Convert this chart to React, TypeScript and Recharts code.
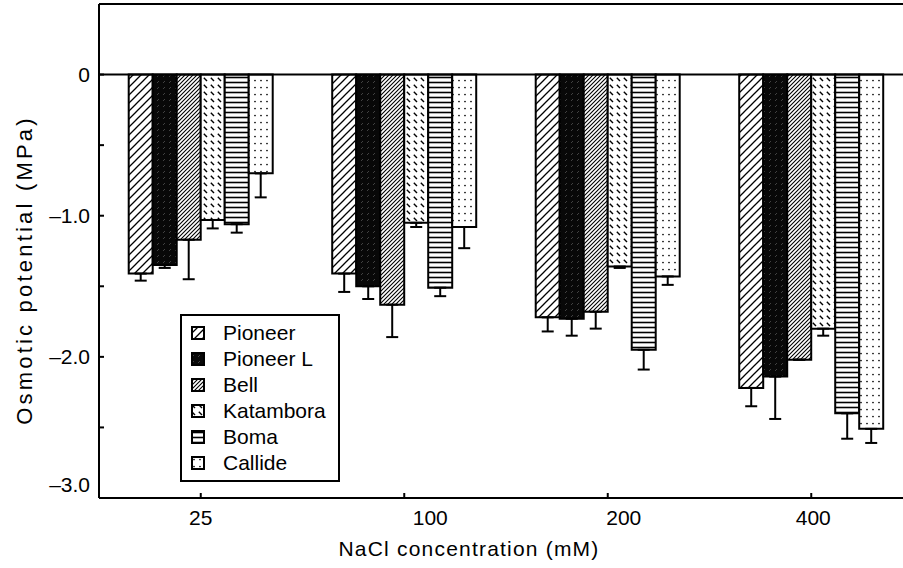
import { BarChart, Bar, XAxis, YAxis, ErrorBar, ReferenceLine, Legend } from "recharts";

/* ─── Data ─── */

const concentrations = ["25", "100", "200", "400"];

const pioneer = [-1.41, -1.41, -1.72, -2.22];
const pioneerErr = [0.05, 0.13, 0.1, 0.13];
const pioneerL = [-1.35, -1.5, -1.73, -2.14];
const pioneerLErr = [0.02, 0.09, 0.12, 0.3];
const bell = [-1.17, -1.63, -1.68, -2.02];
const bellErr = [0.28, 0.23, 0.12, 0];
const katambora = [-1.03, -1.05, -1.36, -1.8];
const katamboraErr = [0.06, 0.03, 0.01, 0.05];
const boma = [-1.06, -1.51, -1.95, -2.4];
const bomaErr = [0.06, 0.06, 0.14, 0.18];
const callide = [-0.7, -1.08, -1.43, -2.51];
const callideErr = [0.17, 0.15, 0.06, 0.1];

const yTicks = [-3, -2.5, -2, -1.5, -1, -0.5, 0];
const yLabels: Record<string, string> = { "0": "0", "-1": "–1.0", "-2": "–2.0", "-3": "–3.0" };

const series = [
  { key: "pioneer", name: "Pioneer", values: pioneer, errs: pioneerErr, fill: "url(#pPioneer)" },
  { key: "pioneerL", name: "Pioneer L", values: pioneerL, errs: pioneerLErr, fill: "url(#pPioneerL)" },
  { key: "bell", name: "Bell", values: bell, errs: bellErr, fill: "url(#pBell)" },
  { key: "katambora", name: "Katambora", values: katambora, errs: katamboraErr, fill: "url(#pKatambora)" },
  { key: "boma", name: "Boma", values: boma, errs: bomaErr, fill: "url(#pBoma)" },
  { key: "callide", name: "Callide", values: callide, errs: callideErr, fill: "url(#pCallide)" },
];

// one row per concentration, errors only point downwards
const data = concentrations.map((c, i) => {
  const row: Record<string, any> = { conc: c };
  series.forEach((s) => {
    row[s.key] = s.values[i];
    row[s.key + "Err"] = [s.errs[i], 0];
  });
  return row;
});

const FONT = '"Liberation Sans", Arial, Helvetica, sans-serif';
// the printed category labels sit a little off their tick marks
const xLabelShift: Record<string, number> = { "25": 0, "100": 26, "200": 16, "400": 2 };

/* ─── Hatch patterns ─── */

function Patterns() {
  return (
    <svg width={0} height={0} style={{ position: "absolute" }}>
      <defs>
        <pattern id="pPioneer" patternUnits="userSpaceOnUse" width={8} height={8}>
          <rect width={8} height={8} fill="#fff" />
          <path d="M-2,2 L2,-2 M0,8 L8,0 M6,10 L10,6" stroke="#000" strokeWidth={1.3} />
        </pattern>
        <pattern id="pPioneerL" patternUnits="userSpaceOnUse" width={6} height={6}>
          <rect width={6} height={6} fill="#080808" />
          <path d="M1,5 L3,3" stroke="#6a6a6a" strokeWidth={0.6} />
        </pattern>
        <pattern id="pBell" patternUnits="userSpaceOnUse" width={4} height={4}>
          <rect width={4} height={4} fill="#fff" />
          <path d="M-1,1 L1,-1 M0,4 L4,0 M3,5 L5,3" stroke="#000" strokeWidth={1.1} />
        </pattern>
        <pattern id="pKatambora" patternUnits="userSpaceOnUse" width={7} height={7}>
          <rect width={7} height={7} fill="#fff" />
          <path d="M0.8,0.8 L4,4" stroke="#000" strokeWidth={1.4} />
        </pattern>
        <pattern id="pBoma" patternUnits="userSpaceOnUse" width={4} height={5}>
          <rect width={4} height={5} fill="#fff" />
          <path d="M0,2.5 L4,2.5" stroke="#000" strokeWidth={1.6} />
        </pattern>
        <pattern id="pCallide" patternUnits="userSpaceOnUse" width={6} height={7}>
          <rect width={6} height={7} fill="#fff" />
          <circle cx={3} cy={3.5} r={0.85} fill="#000" />
        </pattern>
      </defs>
    </svg>
  );
}

/* ─── Ticks (inward tick marks) ─── */

function YTick(props: any) {
  const { x, y, payload } = props;
  const label = yLabels[String(payload.value)];
  const lift = payload.value === -3 ? -13 : 0;
  return (
    <g>
      <line x1={x} x2={x + 5} y1={y} y2={y} stroke="#000" strokeWidth={2} />
      {label && (
        <text x={x - 9} y={y + 7 + lift} textAnchor="end" fontSize={21} fontFamily={FONT} fill="#000">
          {label}
        </text>
      )}
    </g>
  );
}

function XTick(props: any) {
  const { x, y, payload } = props;
  const dx = xLabelShift[payload.value] ?? 0;
  return (
    <g>
      <line x1={x} x2={x} y1={y} y2={y - 5} stroke="#000" strokeWidth={2} />
      <text x={x + dx} y={y + 27} textAnchor="middle" fontSize={21} fontFamily={FONT} fill="#000">
        {payload.value}
      </text>
    </g>
  );
}

function LegendBox() {
  return (
    <div
      style={{
        border: "2px solid #000",
        background: "#fff",
        padding: "4px 0",
        width: 156,
        fontFamily: FONT,
        fontSize: 21,
        boxSizing: "content-box",
      }}
    >
      {series.map((s) => (
        <div key={s.key} style={{ display: "flex", alignItems: "center", height: 26 }}>
          <svg width={14} height={14} style={{ marginLeft: 9, marginRight: 18, flexShrink: 0 }}>
            <rect x={1} y={1} width={12} height={12} fill={s.fill} stroke="#000" strokeWidth={2} />
          </svg>
          <span style={{ whiteSpace: "nowrap" }}>{s.name}</span>
        </div>
      ))}
    </div>
  );
}

export default function App() {
  return (
    <div
      style={{
        position: "absolute",
        left: 0,
        top: 0,
        width: 903,
        height: 568,
        overflow: "hidden",
        background: "#fff",
      }}
    >
      <Patterns />
      <BarChart
        width={913}
        height={568}
        data={data}
        margin={{ top: 4, right: 0, bottom: 0, left: 0 }}
        barCategoryGap="14.6%"
        barGap={0}
      >
        <XAxis
          dataKey="conc"
          height={70}
          axisLine={{ stroke: "#000", strokeWidth: 2 }}
          tickLine={false}
          tickSize={0}
          tickMargin={0}
          tick={<XTick />}
          interval={0}
          label={{
            content: () => (
              <text
                x={469}
                y={556}
                textAnchor="middle"
                fontSize={21}
                letterSpacing={1.2}
                fontFamily={FONT}
                fill="#000"
              >
                NaCl concentration (mM)
              </text>
            ),
          }}
        />
        <YAxis
          width={99}
          domain={[-3, 0.5]}
          ticks={yTicks}
          allowDataOverflow
          axisLine={{ stroke: "#000", strokeWidth: 2 }}
          tickLine={false}
          tickSize={0}
          tickMargin={0}
          tick={<YTick />}
          interval={0}
          label={{
            content: () => (
              <text
                x={32}
                y={270}
                transform="rotate(-90 32 270)"
                textAnchor="middle"
                fontSize={22}
                letterSpacing={3.2}
                fontFamily={FONT}
                fill="#000"
              >
                Osmotic potential (MPa)
              </text>
            ),
          }}
        />
        <ReferenceLine y={0.5} stroke="#000" strokeWidth={2} />
        {series.map((s) => (
          <Bar
            key={s.key}
            dataKey={s.key}
            name={s.name}
            fill={s.fill}
            stroke="#000"
            strokeWidth={2}
            isAnimationActive={false}
          >
            <ErrorBar
              dataKey={s.key + "Err"}
              direction="y"
              width={6}
              stroke="#000"
              strokeWidth={2}
              isAnimationActive={false}
            />
          </Bar>
        ))}
        <ReferenceLine y={0} stroke="#000" strokeWidth={2} />
        <Legend
          layout="vertical"
          align="center"
          verticalAlign="middle"
          wrapperStyle={{ left: 180, top: 314, width: 160 }}
          content={() => <LegendBox />}
        />
      </BarChart>
    </div>
  );
}
